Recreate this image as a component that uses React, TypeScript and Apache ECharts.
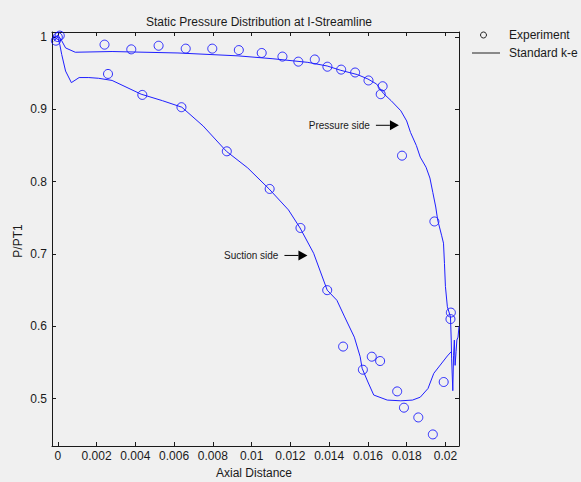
import React, { useEffect, useRef } from "react";
import * as echarts from "echarts";

const titleText = "Static Pressure Distribution at I-Streamline";
const xAxisName = "Axial Distance";
const yAxisName = "P/PT1";

const xTicks = [0, 0.002, 0.004, 0.006, 0.008, 0.01, 0.012, 0.014, 0.016, 0.018, 0.02];
const xTickLabels = ["0", "0.002", "0.004", "0.006", "0.008", "0.01", "0.012", "0.014", "0.016", "0.018", "0.02"];
const yTicks = [0.5, 0.6, 0.7, 0.8, 0.9, 1];
const yTickLabels = ["0.5", "0.6", "0.7", "0.8", "0.9", "1"];

const legendNames = ["Experiment", "Standard k-e"];

// Experiment points [axial distance, P/PT1]
const pressureExp: number[][] = [
  [0, 1.0], [-0.0001, 0.995], [0.0001, 1.002],
  [0.00241, 0.9895], [0.00379, 0.983], [0.0052, 0.988], [0.0066, 0.984],
  [0.00797, 0.984], [0.00934, 0.982], [0.01052, 0.978], [0.01159, 0.973],
  [0.01241, 0.966], [0.01326, 0.969], [0.01391, 0.959], [0.01462, 0.955],
  [0.01534, 0.951], [0.01603, 0.94], [0.01676, 0.932], [0.01666, 0.921],
  [0.01776, 0.836], [0.01943, 0.745], [0.02028, 0.619], [0.02026, 0.61],
];
const suctionExp: number[][] = [
  [0.00259, 0.949], [0.00436, 0.92], [0.00638, 0.903], [0.00872, 0.842],
  [0.01093, 0.79], [0.01252, 0.736], [0.0139, 0.65], [0.01472, 0.572],
  [0.01574, 0.54], [0.0162, 0.558], [0.01663, 0.552], [0.01751, 0.51],
  [0.01786, 0.4875], [0.0186, 0.474], [0.01935, 0.4505], [0.01991, 0.523],
];

// Standard k-e computed curves
const pressureCFD: number[][] = [
  [-0.0002, 0.996], [0, 1.003], [0.0002, 0.995], [0.0004, 0.985], [0.0009, 0.979],
  [0.0028, 0.98], [0.0062, 0.978], [0.0093, 0.974], [0.0111, 0.97], [0.0129, 0.965],
  [0.0139, 0.96], [0.0146, 0.954], [0.01547, 0.948], [0.016, 0.942], [0.01645, 0.935],
  [0.0168, 0.922], [0.0172, 0.912], [0.0177, 0.898], [0.018, 0.884], [0.0182, 0.868],
  [0.0185, 0.85], [0.0187, 0.834], [0.019, 0.82], [0.0192, 0.805], [0.01935, 0.785],
  [0.0195, 0.765], [0.0196, 0.747], [0.0198, 0.726], [0.0199, 0.715], [0.01995, 0.687],
  [0.02, 0.655], [0.0201, 0.627], [0.02026, 0.613], [0.0203, 0.581],
  [0.02032, 0.555], [0.02038, 0.511], [0.02042, 0.56], [0.02046, 0.581],
  [0.0205, 0.546], [0.02055, 0.565], [0.02059, 0.581], [0.02065, 0.585], [0.0207, 0.6],
];
const suctionCFD: number[][] = [
  [-0.0002, 0.994], [0, 1.0], [0.0001, 0.99], [0.0002, 0.976], [0.0004, 0.953],
  [0.0007, 0.937], [0.0011, 0.944], [0.0016, 0.944], [0.0021, 0.943], [0.0028, 0.94],
  [0.0043, 0.921], [0.0054, 0.912], [0.0064, 0.903], [0.0075, 0.877], [0.0087, 0.842],
  [0.0098, 0.819], [0.0109, 0.79], [0.0119, 0.761], [0.0125, 0.736], [0.0132, 0.701],
  [0.0139, 0.65], [0.0144, 0.636], [0.0148, 0.613], [0.0153, 0.585], [0.0156, 0.558],
  [0.0157, 0.542], [0.016, 0.523], [0.0163, 0.505], [0.017, 0.498], [0.0177, 0.497],
  [0.0183, 0.498], [0.0187, 0.502], [0.0191, 0.514], [0.0194, 0.535], [0.0201, 0.559],
  [0.0203, 0.565],
];

// annotation arrow tips (data coords)
const annotations = [
  { label: "Pressure side", x: 0.0176, y: 0.878 },
  { label: "Suction side", x: 0.01288, y: 0.698 },
];

const FONT = "'Liberation Sans', Arial, sans-serif";
const AXIS_COLOR = "#1a1a1a";
const TEXT_COLOR = "#1a1a1a";
const BLUE = "#0000ff";

export default function App() {
  const ref = useRef<HTMLDivElement>(null);
  useEffect(() => {
    if (!ref.current) return;
    const chart = echarts.init(ref.current, undefined, { renderer: "svg" });
    const xMin = -0.0003, xMax = 0.0207, yMin = 0.4345, yMax = 1.007;
    const labelStyle = { color: TEXT_COLOR, fontSize: 12, fontFamily: FONT };
    const mkX = (pos: "bottom" | "top", show: boolean) => ({
      type: "value",
      position: pos,
      min: xMin,
      max: xMax,
      axisLine: { show: true, onZero: false, lineStyle: { color: AXIS_COLOR, width: 1 } },
      axisTick: { show: true, inside: true, length: 4, customValues: xTicks, lineStyle: { color: AXIS_COLOR } },
      axisLabel: {
        show,
        customValues: xTicks,
        margin: 4,
        ...labelStyle,
        formatter: (v: number) => {
          const i = xTicks.findIndex((t) => Math.abs(t - v) < 1e-9);
          return i >= 0 ? xTickLabels[i] : "";
        },
      },
      splitLine: { show: false },
    });
    const mkY = (pos: "left" | "right", show: boolean) => ({
      type: "value",
      position: pos,
      min: yMin,
      max: yMax,
      axisLine: { show: true, onZero: false, lineStyle: { color: AXIS_COLOR, width: 1 } },
      axisTick: { show: true, inside: true, length: 4, customValues: yTicks, lineStyle: { color: AXIS_COLOR } },
      axisLabel: {
        show,
        customValues: yTicks,
        margin: 5,
        ...labelStyle,
        formatter: (v: number) => {
          const i = yTicks.findIndex((t) => Math.abs(t - v) < 1e-9);
          return i >= 0 ? yTickLabels[i] : "";
        },
      },
      splitLine: { show: false },
    });

    const scatterStyle = {
      type: "scatter",
      symbol: "circle",
      symbolSize: 9,
      itemStyle: { color: "rgba(0,0,0,0)", borderColor: BLUE, borderWidth: 1 },
      silent: true,
    };
    const lineStyle = {
      type: "line",
      showSymbol: false,
      symbol: "none",
      lineStyle: { color: "#1f1fff", width: 1 },
      silent: true,
    };

    chart.setOption({
      animation: false,
      backgroundColor: "#f0f0f0",
      title: {
        text: titleText,
        left: 254,
        top: 11,
        textAlign: "center",
        textStyle: { fontSize: 12, fontWeight: "normal", color: TEXT_COLOR, fontFamily: FONT },
      },
      grid: { left: 52, right: 122, top: 32, bottom: 36, containLabel: false },
      xAxis: [mkX("bottom", true), mkX("top", false)],
      yAxis: [mkY("left", true), mkY("right", false)],
      series: [
        { ...lineStyle, name: legendNames[1], data: pressureCFD },
        { ...lineStyle, name: legendNames[1], data: suctionCFD },
        { ...scatterStyle, name: legendNames[0], data: pressureExp },
        { ...scatterStyle, name: legendNames[0], data: suctionExp },
      ],
    });

    const graphics: any[] = [];
    annotations.forEach((a) => {
      const p = chart.convertToPixel({ gridIndex: 0 }, [a.x, a.y]) as number[];
      const tipX = p[0], y = p[1];
      graphics.push({
        type: "polygon",
        silent: true,
        shape: { points: [[tipX, y], [tipX - 9, y - 5], [tipX - 9, y + 5]] },
        style: { fill: "#000" },
      });
      graphics.push({
        type: "line",
        silent: true,
        shape: { x1: tipX - 23, y1: y, x2: tipX - 9, y2: y },
        style: { stroke: "#000", lineWidth: 1 },
      });
      graphics.push({
        type: "text",
        silent: true,
        x: tipX - 29,
        y,
        style: {
          text: a.label,
          fill: TEXT_COLOR,
          fontSize: 10,
          fontFamily: FONT,
          align: "right",
          verticalAlign: "middle",
        },
      });
    });
    // axis names
    graphics.push({
      type: "text",
      silent: true,
      x: 254,
      y: 473,
      style: { text: xAxisName, fill: TEXT_COLOR, fontSize: 12, fontFamily: FONT, align: "center", verticalAlign: "middle" },
    });
    graphics.push({
      type: "text",
      silent: true,
      x: 18,
      y: 241,
      rotation: Math.PI / 2,
      style: { text: yAxisName, fill: TEXT_COLOR, fontSize: 12, fontFamily: FONT, align: "center", verticalAlign: "middle" },
    });
    // legend
    graphics.push({
      type: "circle",
      silent: true,
      shape: { cx: 483.5, cy: 35, r: 3 },
      style: { fill: "none", stroke: "#222", lineWidth: 1 },
    });
    graphics.push({
      type: "text",
      silent: true,
      x: 509,
      y: 35,
      style: { text: legendNames[0], fill: TEXT_COLOR, fontSize: 12, fontFamily: FONT, verticalAlign: "middle" },
    });
    graphics.push({
      type: "line",
      silent: true,
      shape: { x1: 472, y1: 53, x2: 500, y2: 53 },
      style: { stroke: "#222", lineWidth: 1 },
    });
    graphics.push({
      type: "text",
      silent: true,
      x: 509,
      y: 53,
      style: { text: legendNames[1], fill: TEXT_COLOR, fontSize: 12, fontFamily: FONT, verticalAlign: "middle" },
    });
    chart.setOption({ graphic: graphics });

    return () => chart.dispose();
  }, []);
  return (
    <div
      ref={ref}
      style={{ position: "fixed", left: 0, top: 0, width: 581, height: 482 }}
    />
  );
}
